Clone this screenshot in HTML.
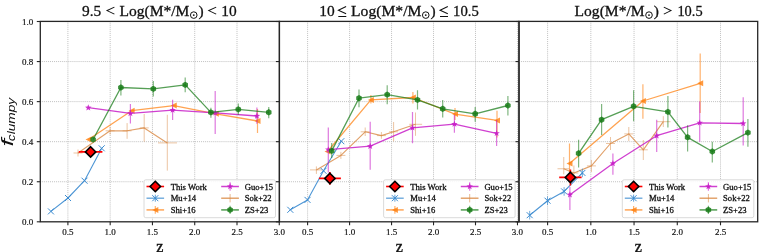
<!DOCTYPE html><html><head><meta charset="utf-8"><style>html,body{margin:0;padding:0;background:#fff;}svg{display:block;will-change:transform;}</style></head><body><svg width="759" height="252" viewBox="0 0 759 252"><rect width="759" height="252" fill="#fff"/><clipPath id="c0"><rect x="40.3" y="21.4" width="239.09999999999997" height="200.4"/></clipPath><g stroke-dasharray="0.9,1.06"><line x1="40.30" y1="181.74" x2="279.40" y2="181.74" stroke="#b4b4b4" stroke-width="0.9" stroke-opacity="1.0"/><line x1="40.30" y1="141.68" x2="279.40" y2="141.68" stroke="#b4b4b4" stroke-width="0.9" stroke-opacity="1.0"/><line x1="40.30" y1="101.62" x2="279.40" y2="101.62" stroke="#b4b4b4" stroke-width="0.9" stroke-opacity="1.0"/><line x1="40.30" y1="61.56" x2="279.40" y2="61.56" stroke="#b4b4b4" stroke-width="0.9" stroke-opacity="1.0"/><line x1="67.90" y1="21.40" x2="67.90" y2="221.80" stroke="#b4b4b4" stroke-width="0.9" stroke-opacity="1.0"/><line x1="110.18" y1="21.40" x2="110.18" y2="221.80" stroke="#b4b4b4" stroke-width="0.9" stroke-opacity="1.0"/><line x1="152.45" y1="21.40" x2="152.45" y2="221.80" stroke="#b4b4b4" stroke-width="0.9" stroke-opacity="1.0"/><line x1="194.72" y1="21.40" x2="194.72" y2="221.80" stroke="#b4b4b4" stroke-width="0.9" stroke-opacity="1.0"/><line x1="237.00" y1="21.40" x2="237.00" y2="221.80" stroke="#b4b4b4" stroke-width="0.9" stroke-opacity="1.0"/></g><g clip-path="url(#c0)"><polyline points="78.00,153.00 110.10,130.80 127.10,130.80 144.20,127.90 167.30,142.90" fill="none" stroke="#d98a45" stroke-width="1.15" stroke-opacity="0.8" stroke-linejoin="round" stroke-linecap="butt" /><line x1="78.00" y1="149.50" x2="78.00" y2="156.50" stroke="#d98a45" stroke-width="1.0" stroke-opacity="0.5"/><line x1="73.50" y1="153.00" x2="82.50" y2="153.00" stroke="#d98a45" stroke-width="1.0" stroke-opacity="0.5"/><line x1="110.10" y1="126.90" x2="110.10" y2="134.60" stroke="#d98a45" stroke-width="1.0" stroke-opacity="0.5"/><line x1="105.60" y1="130.80" x2="114.60" y2="130.80" stroke="#d98a45" stroke-width="1.0" stroke-opacity="0.5"/><line x1="127.10" y1="123.10" x2="127.10" y2="138.80" stroke="#d98a45" stroke-width="1.0" stroke-opacity="0.5"/><line x1="122.60" y1="130.80" x2="131.60" y2="130.80" stroke="#d98a45" stroke-width="1.0" stroke-opacity="0.5"/><line x1="144.20" y1="114.00" x2="144.20" y2="141.70" stroke="#d98a45" stroke-width="1.0" stroke-opacity="0.5"/><line x1="139.70" y1="127.90" x2="148.70" y2="127.90" stroke="#d98a45" stroke-width="1.0" stroke-opacity="0.5"/><line x1="167.30" y1="114.80" x2="167.30" y2="170.60" stroke="#d98a45" stroke-width="1.0" stroke-opacity="0.5"/><line x1="158.00" y1="142.90" x2="177.00" y2="142.90" stroke="#d98a45" stroke-width="1.0" stroke-opacity="0.5"/><polyline points="50.95,211.40 68.00,198.00 84.50,180.70 101.70,148.30" fill="none" stroke="#3b8bd0" stroke-width="1.1" stroke-opacity="0.9" stroke-linejoin="round" stroke-linecap="butt" /><path d="M47.95,208.40L53.95,214.40M47.95,214.40L53.95,208.40" stroke="#3b8bd0" stroke-width="1.0" fill="none"/><path d="M65.00,195.00L71.00,201.00M65.00,201.00L71.00,195.00" stroke="#3b8bd0" stroke-width="1.0" fill="none"/><path d="M81.50,177.70L87.50,183.70M81.50,183.70L87.50,177.70" stroke="#3b8bd0" stroke-width="1.0" fill="none"/><path d="M98.70,145.30L104.70,151.30M98.70,151.30L104.70,145.30" stroke="#3b8bd0" stroke-width="1.0" fill="none"/><polyline points="88.50,139.50 131.60,110.70 173.75,105.60 215.80,113.80 257.50,121.00" fill="none" stroke="#ff7f0e" stroke-width="1.3" stroke-opacity="0.72" stroke-linejoin="round" stroke-linecap="butt" /><polygon points="85.50,139.50 91.50,136.50 91.50,142.50" fill="#ff7f0e" fill-opacity="0.8"/><polygon points="128.60,110.70 134.60,107.70 134.60,113.70" fill="#ff7f0e" fill-opacity="0.8"/><polygon points="170.75,105.60 176.75,102.60 176.75,108.60" fill="#ff7f0e" fill-opacity="0.8"/><polygon points="212.80,113.80 218.80,110.80 218.80,116.80" fill="#ff7f0e" fill-opacity="0.8"/><line x1="257.50" y1="109.00" x2="257.50" y2="133.00" stroke="#ff7f0e" stroke-width="1.2" stroke-opacity="0.6"/><polygon points="254.50,121.00 260.50,118.00 260.50,124.00" fill="#ff7f0e" fill-opacity="0.8"/><polyline points="88.30,107.70 130.40,113.40 172.60,110.10 215.20,112.80 256.90,116.00" fill="none" stroke="#c81ec8" stroke-width="1.3" stroke-opacity="0.85" stroke-linejoin="round" stroke-linecap="butt" /><polygon points="88.30,104.30 89.14,106.54 91.53,106.65 89.66,108.14 90.30,110.45 88.30,109.13 86.30,110.45 86.94,108.14 85.07,106.65 87.46,106.54" fill="#c81ec8" fill-opacity="0.9"/><line x1="130.40" y1="103.90" x2="130.40" y2="123.60" stroke="#c81ec8" stroke-width="1.2" stroke-opacity="0.6"/><polygon points="130.40,110.00 131.24,112.24 133.63,112.35 131.76,113.84 132.40,116.15 130.40,114.83 128.40,116.15 129.04,113.84 127.17,112.35 129.56,112.24" fill="#c81ec8" fill-opacity="0.9"/><line x1="172.60" y1="99.70" x2="172.60" y2="119.90" stroke="#c81ec8" stroke-width="1.2" stroke-opacity="0.6"/><polygon points="172.60,106.70 173.44,108.94 175.83,109.05 173.96,110.54 174.60,112.85 172.60,111.53 170.60,112.85 171.24,110.54 169.37,109.05 171.76,108.94" fill="#c81ec8" fill-opacity="0.9"/><line x1="215.20" y1="90.90" x2="215.20" y2="134.00" stroke="#c81ec8" stroke-width="1.2" stroke-opacity="0.6"/><polygon points="215.20,109.40 216.04,111.64 218.43,111.75 216.56,113.24 217.20,115.55 215.20,114.23 213.20,115.55 213.84,113.24 211.97,111.75 214.36,111.64" fill="#c81ec8" fill-opacity="0.9"/><line x1="256.90" y1="107.40" x2="256.90" y2="123.80" stroke="#c81ec8" stroke-width="1.2" stroke-opacity="0.6"/><polygon points="256.90,112.60 257.74,114.84 260.13,114.95 258.26,116.44 258.90,118.75 256.90,117.43 254.90,118.75 255.54,116.44 253.67,114.95 256.06,114.84" fill="#c81ec8" fill-opacity="0.9"/><polyline points="93.10,139.50 120.90,87.50 153.30,88.90 185.20,84.90 210.90,112.40 238.30,109.40 268.75,112.30" fill="none" stroke="#157a15" stroke-width="1.35" stroke-opacity="0.72" stroke-linejoin="round" stroke-linecap="butt" /><polygon points="93.10,136.30 95.87,137.90 95.87,141.10 93.10,142.70 90.33,141.10 90.33,137.90" fill="#157a15" fill-opacity="0.85"/><line x1="120.90" y1="79.90" x2="120.90" y2="95.40" stroke="#157a15" stroke-width="1.2" stroke-opacity="0.55"/><polygon points="120.90,84.30 123.67,85.90 123.67,89.10 120.90,90.70 118.13,89.10 118.13,85.90" fill="#157a15" fill-opacity="0.85"/><line x1="153.30" y1="80.90" x2="153.30" y2="96.40" stroke="#157a15" stroke-width="1.2" stroke-opacity="0.55"/><polygon points="153.30,85.70 156.07,87.30 156.07,90.50 153.30,92.10 150.53,90.50 150.53,87.30" fill="#157a15" fill-opacity="0.85"/><line x1="185.20" y1="77.50" x2="185.20" y2="92.20" stroke="#157a15" stroke-width="1.2" stroke-opacity="0.55"/><polygon points="185.20,81.70 187.97,83.30 187.97,86.50 185.20,88.10 182.43,86.50 182.43,83.30" fill="#157a15" fill-opacity="0.85"/><line x1="210.90" y1="107.80" x2="210.90" y2="117.80" stroke="#157a15" stroke-width="1.2" stroke-opacity="0.55"/><polygon points="210.90,109.20 213.67,110.80 213.67,114.00 210.90,115.60 208.13,114.00 208.13,110.80" fill="#157a15" fill-opacity="0.85"/><line x1="238.30" y1="103.50" x2="238.30" y2="114.80" stroke="#157a15" stroke-width="1.2" stroke-opacity="0.55"/><polygon points="238.30,106.20 241.07,107.80 241.07,111.00 238.30,112.60 235.53,111.00 235.53,107.80" fill="#157a15" fill-opacity="0.85"/><line x1="268.75" y1="107.00" x2="268.75" y2="118.20" stroke="#157a15" stroke-width="1.2" stroke-opacity="0.55"/><polygon points="268.75,109.10 271.52,110.70 271.52,113.90 268.75,115.50 265.98,113.90 265.98,110.70" fill="#157a15" fill-opacity="0.85"/><line x1="78.80" y1="151.90" x2="102.40" y2="151.90" stroke="#ff0000" stroke-width="1.6" stroke-opacity="1.0"/><line x1="90.60" y1="147.90" x2="90.60" y2="155.90" stroke="#ff0000" stroke-width="1.6" stroke-opacity="1.0"/><polygon points="90.60,146.70 95.80,151.90 90.60,157.10 85.40,151.90" fill="#ff0000" stroke="#000" stroke-width="1.6" stroke-linejoin="miter"/></g><rect x="144.0" y="179.8" width="131.5" height="37.9" rx="1.8" fill="#fff" fill-opacity="0.85" stroke="#d6d6d6" stroke-width="0.9"/><line x1="146.50" y1="186.50" x2="164.10" y2="186.50" stroke="#ff0000" stroke-width="1.6" stroke-opacity="1.0"/><polygon points="155.30,181.30 160.50,186.50 155.30,191.70 150.10,186.50" fill="#ff0000" stroke="#000" stroke-width="1.6" stroke-linejoin="miter"/><line x1="146.50" y1="198.20" x2="164.10" y2="198.20" stroke="#3b8bd0" stroke-width="1.3" stroke-opacity="0.8"/><line x1="155.30" y1="194.70" x2="155.30" y2="201.70" stroke="#3b8bd0" stroke-width="1.0" stroke-opacity="0.8"/><path d="M152.30,195.20L158.30,201.20M152.30,201.20L158.30,195.20" stroke="#3b8bd0" stroke-width="1.0" fill="none"/><line x1="146.50" y1="209.90" x2="164.10" y2="209.90" stroke="#ff7f0e" stroke-width="1.5" stroke-opacity="0.7"/><line x1="155.30" y1="206.10" x2="155.30" y2="213.70" stroke="#ff7f0e" stroke-width="1.2" stroke-opacity="0.6"/><polygon points="152.30,209.90 158.30,206.90 158.30,212.90" fill="#ff7f0e" fill-opacity="0.8"/><line x1="221.20" y1="186.50" x2="238.90" y2="186.50" stroke="#c81ec8" stroke-width="1.5" stroke-opacity="0.85"/><line x1="230.10" y1="182.30" x2="230.10" y2="190.70" stroke="#c81ec8" stroke-width="1.2" stroke-opacity="0.6"/><polygon points="230.10,183.10 230.94,185.34 233.33,185.45 231.46,186.94 232.10,189.25 230.10,187.93 228.10,189.25 228.74,186.94 226.87,185.45 229.26,185.34" fill="#c81ec8" fill-opacity="0.9"/><line x1="221.20" y1="198.20" x2="238.90" y2="198.20" stroke="#d98a45" stroke-width="1.3" stroke-opacity="0.9"/><line x1="230.10" y1="194.00" x2="230.10" y2="202.40" stroke="#d98a45" stroke-width="1.0" stroke-opacity="0.6"/><line x1="221.20" y1="209.90" x2="238.90" y2="209.90" stroke="#157a15" stroke-width="1.6" stroke-opacity="0.7"/><line x1="230.10" y1="205.70" x2="230.10" y2="214.10" stroke="#157a15" stroke-width="1.2" stroke-opacity="0.55"/><polygon points="230.10,206.70 232.87,208.30 232.87,211.50 230.10,213.10 227.33,211.50 227.33,208.30" fill="#157a15" fill-opacity="0.85"/><text x="170.70" y="189.50" style="font-family:'Liberation Serif',serif;font-size:8.6px;fill:#111;stroke:#111;stroke-width:0.3px">This Work</text><text x="170.70" y="201.20" style="font-family:'Liberation Serif',serif;font-size:8.6px;fill:#111;stroke:#111;stroke-width:0.3px">Mu+14</text><text x="170.70" y="212.90" style="font-family:'Liberation Serif',serif;font-size:8.6px;fill:#111;stroke:#111;stroke-width:0.3px">Shi+16</text><text x="244.80" y="189.50" style="font-family:'Liberation Serif',serif;font-size:8.6px;fill:#111;stroke:#111;stroke-width:0.3px">Guo+15</text><text x="244.80" y="201.20" style="font-family:'Liberation Serif',serif;font-size:8.6px;fill:#111;stroke:#111;stroke-width:0.3px">Sok+22</text><text x="244.80" y="212.90" style="font-family:'Liberation Serif',serif;font-size:8.6px;fill:#111;stroke:#111;stroke-width:0.3px">ZS+23</text><rect x="40.3" y="21.4" width="239.09999999999997" height="200.4" fill="none" stroke="#262626" stroke-width="1.3"/><line x1="36.80" y1="221.80" x2="40.30" y2="221.80" stroke="#262626" stroke-width="1.1" stroke-opacity="1.0"/><line x1="36.80" y1="181.74" x2="40.30" y2="181.74" stroke="#262626" stroke-width="1.1" stroke-opacity="1.0"/><line x1="36.80" y1="141.68" x2="40.30" y2="141.68" stroke="#262626" stroke-width="1.1" stroke-opacity="1.0"/><line x1="36.80" y1="101.62" x2="40.30" y2="101.62" stroke="#262626" stroke-width="1.1" stroke-opacity="1.0"/><line x1="36.80" y1="61.56" x2="40.30" y2="61.56" stroke="#262626" stroke-width="1.1" stroke-opacity="1.0"/><line x1="36.80" y1="21.50" x2="40.30" y2="21.50" stroke="#262626" stroke-width="1.1" stroke-opacity="1.0"/><line x1="67.90" y1="221.80" x2="67.90" y2="225.30" stroke="#262626" stroke-width="1.1" stroke-opacity="1.0"/><line x1="110.18" y1="221.80" x2="110.18" y2="225.30" stroke="#262626" stroke-width="1.1" stroke-opacity="1.0"/><line x1="152.45" y1="221.80" x2="152.45" y2="225.30" stroke="#262626" stroke-width="1.1" stroke-opacity="1.0"/><line x1="194.72" y1="221.80" x2="194.72" y2="225.30" stroke="#262626" stroke-width="1.1" stroke-opacity="1.0"/><line x1="237.00" y1="221.80" x2="237.00" y2="225.30" stroke="#262626" stroke-width="1.1" stroke-opacity="1.0"/><line x1="279.27" y1="221.80" x2="279.27" y2="225.30" stroke="#262626" stroke-width="1.1" stroke-opacity="1.0"/><clipPath id="c1"><rect x="279.4" y="21.4" width="239.60000000000002" height="200.4"/></clipPath><g stroke-dasharray="0.9,1.06"><line x1="279.40" y1="181.74" x2="519.00" y2="181.74" stroke="#b4b4b4" stroke-width="0.9" stroke-opacity="1.0"/><line x1="279.40" y1="141.68" x2="519.00" y2="141.68" stroke="#b4b4b4" stroke-width="0.9" stroke-opacity="1.0"/><line x1="279.40" y1="101.62" x2="519.00" y2="101.62" stroke="#b4b4b4" stroke-width="0.9" stroke-opacity="1.0"/><line x1="279.40" y1="61.56" x2="519.00" y2="61.56" stroke="#b4b4b4" stroke-width="0.9" stroke-opacity="1.0"/><line x1="307.60" y1="21.40" x2="307.60" y2="221.80" stroke="#b4b4b4" stroke-width="0.9" stroke-opacity="1.0"/><line x1="349.58" y1="21.40" x2="349.58" y2="221.80" stroke="#b4b4b4" stroke-width="0.9" stroke-opacity="1.0"/><line x1="391.55" y1="21.40" x2="391.55" y2="221.80" stroke="#b4b4b4" stroke-width="0.9" stroke-opacity="1.0"/><line x1="433.53" y1="21.40" x2="433.53" y2="221.80" stroke="#b4b4b4" stroke-width="0.9" stroke-opacity="1.0"/><line x1="475.50" y1="21.40" x2="475.50" y2="221.80" stroke="#b4b4b4" stroke-width="0.9" stroke-opacity="1.0"/><line x1="517.48" y1="21.40" x2="517.48" y2="221.80" stroke="#b4b4b4" stroke-width="0.9" stroke-opacity="1.0"/></g><g clip-path="url(#c1)"><polyline points="316.40,169.90 340.90,155.40 365.20,131.80 381.40,135.60 393.60,131.80 415.50,124.30" fill="none" stroke="#d98a45" stroke-width="1.15" stroke-opacity="0.8" stroke-linejoin="round" stroke-linecap="butt" /><line x1="316.40" y1="166.40" x2="316.40" y2="173.90" stroke="#d98a45" stroke-width="1.0" stroke-opacity="0.5"/><line x1="310.00" y1="169.90" x2="322.50" y2="169.90" stroke="#d98a45" stroke-width="1.0" stroke-opacity="0.5"/><line x1="340.90" y1="151.90" x2="340.90" y2="158.90" stroke="#d98a45" stroke-width="1.0" stroke-opacity="0.5"/><line x1="336.40" y1="155.40" x2="345.40" y2="155.40" stroke="#d98a45" stroke-width="1.0" stroke-opacity="0.5"/><line x1="365.20" y1="127.50" x2="365.20" y2="136.00" stroke="#d98a45" stroke-width="1.0" stroke-opacity="0.5"/><line x1="360.70" y1="131.80" x2="369.70" y2="131.80" stroke="#d98a45" stroke-width="1.0" stroke-opacity="0.5"/><line x1="381.40" y1="132.00" x2="381.40" y2="138.80" stroke="#d98a45" stroke-width="1.0" stroke-opacity="0.5"/><line x1="376.90" y1="135.60" x2="385.90" y2="135.60" stroke="#d98a45" stroke-width="1.0" stroke-opacity="0.5"/><line x1="393.60" y1="122.00" x2="393.60" y2="141.30" stroke="#d98a45" stroke-width="1.0" stroke-opacity="0.5"/><line x1="389.10" y1="131.80" x2="398.10" y2="131.80" stroke="#d98a45" stroke-width="1.0" stroke-opacity="0.5"/><line x1="415.50" y1="112.50" x2="415.50" y2="135.80" stroke="#d98a45" stroke-width="1.0" stroke-opacity="0.5"/><line x1="409.30" y1="124.30" x2="422.10" y2="124.30" stroke="#d98a45" stroke-width="1.0" stroke-opacity="0.5"/><polyline points="290.30,209.80 307.50,199.90 323.50,170.80 341.30,141.20" fill="none" stroke="#3b8bd0" stroke-width="1.1" stroke-opacity="0.9" stroke-linejoin="round" stroke-linecap="butt" /><path d="M287.30,206.80L293.30,212.80M287.30,212.80L293.30,206.80" stroke="#3b8bd0" stroke-width="1.0" fill="none"/><path d="M304.50,196.90L310.50,202.90M304.50,202.90L310.50,196.90" stroke="#3b8bd0" stroke-width="1.0" fill="none"/><path d="M320.50,167.80L326.50,173.80M320.50,173.80L326.50,167.80" stroke="#3b8bd0" stroke-width="1.0" fill="none"/><path d="M338.30,138.20L344.30,144.20M338.30,144.20L344.30,138.20" stroke="#3b8bd0" stroke-width="1.0" fill="none"/><polyline points="327.50,151.50 370.90,99.90 412.90,97.50 455.00,114.10 497.00,120.40" fill="none" stroke="#ff7f0e" stroke-width="1.3" stroke-opacity="0.72" stroke-linejoin="round" stroke-linecap="butt" /><polygon points="324.50,151.50 330.50,148.50 330.50,154.50" fill="#ff7f0e" fill-opacity="0.8"/><line x1="370.90" y1="94.90" x2="370.90" y2="103.50" stroke="#ff7f0e" stroke-width="1.2" stroke-opacity="0.6"/><polygon points="367.90,99.90 373.90,96.90 373.90,102.90" fill="#ff7f0e" fill-opacity="0.8"/><line x1="412.90" y1="92.00" x2="412.90" y2="103.50" stroke="#ff7f0e" stroke-width="1.2" stroke-opacity="0.6"/><polygon points="409.90,97.50 415.90,94.50 415.90,100.50" fill="#ff7f0e" fill-opacity="0.8"/><line x1="455.00" y1="107.90" x2="455.00" y2="120.00" stroke="#ff7f0e" stroke-width="1.2" stroke-opacity="0.6"/><polygon points="452.00,114.10 458.00,111.10 458.00,117.10" fill="#ff7f0e" fill-opacity="0.8"/><line x1="497.00" y1="110.80" x2="497.00" y2="137.60" stroke="#ff7f0e" stroke-width="1.2" stroke-opacity="0.6"/><polygon points="494.00,120.40 500.00,117.40 500.00,123.40" fill="#ff7f0e" fill-opacity="0.8"/><polyline points="328.30,149.60 370.20,146.20 412.50,127.80 454.40,124.10 496.60,133.30" fill="none" stroke="#c81ec8" stroke-width="1.3" stroke-opacity="0.85" stroke-linejoin="round" stroke-linecap="butt" /><line x1="328.30" y1="127.60" x2="328.30" y2="172.40" stroke="#c81ec8" stroke-width="1.2" stroke-opacity="0.6"/><polygon points="328.30,146.20 329.14,148.44 331.53,148.55 329.66,150.04 330.30,152.35 328.30,151.03 326.30,152.35 326.94,150.04 325.07,148.55 327.46,148.44" fill="#c81ec8" fill-opacity="0.9"/><line x1="370.20" y1="121.70" x2="370.20" y2="169.70" stroke="#c81ec8" stroke-width="1.2" stroke-opacity="0.6"/><polygon points="370.20,142.80 371.04,145.04 373.43,145.15 371.56,146.64 372.20,148.95 370.20,147.63 368.20,148.95 368.84,146.64 366.97,145.15 369.36,145.04" fill="#c81ec8" fill-opacity="0.9"/><line x1="412.50" y1="111.90" x2="412.50" y2="143.30" stroke="#c81ec8" stroke-width="1.2" stroke-opacity="0.6"/><polygon points="412.50,124.40 413.34,126.64 415.73,126.75 413.86,128.24 414.50,130.55 412.50,129.23 410.50,130.55 411.14,128.24 409.27,126.75 411.66,126.64" fill="#c81ec8" fill-opacity="0.9"/><line x1="454.40" y1="114.80" x2="454.40" y2="132.70" stroke="#c81ec8" stroke-width="1.2" stroke-opacity="0.6"/><polygon points="454.40,120.70 455.24,122.94 457.63,123.05 455.76,124.54 456.40,126.85 454.40,125.53 452.40,126.85 453.04,124.54 451.17,123.05 453.56,122.94" fill="#c81ec8" fill-opacity="0.9"/><line x1="496.60" y1="120.00" x2="496.60" y2="146.00" stroke="#c81ec8" stroke-width="1.2" stroke-opacity="0.6"/><polygon points="496.60,129.90 497.44,132.14 499.83,132.25 497.96,133.74 498.60,136.05 496.60,134.73 494.60,136.05 495.24,133.74 493.37,132.25 495.76,132.14" fill="#c81ec8" fill-opacity="0.9"/><polyline points="331.70,150.90 359.00,98.20 387.20,94.60 417.50,99.90 442.70,108.80 475.20,113.80 507.90,105.50" fill="none" stroke="#157a15" stroke-width="1.35" stroke-opacity="0.72" stroke-linejoin="round" stroke-linecap="butt" /><line x1="331.70" y1="143.00" x2="331.70" y2="158.00" stroke="#157a15" stroke-width="1.2" stroke-opacity="0.55"/><polygon points="331.70,147.70 334.47,149.30 334.47,152.50 331.70,154.10 328.93,152.50 328.93,149.30" fill="#157a15" fill-opacity="0.85"/><line x1="359.00" y1="89.50" x2="359.00" y2="107.30" stroke="#157a15" stroke-width="1.2" stroke-opacity="0.55"/><polygon points="359.00,95.00 361.77,96.60 361.77,99.80 359.00,101.40 356.23,99.80 356.23,96.60" fill="#157a15" fill-opacity="0.85"/><line x1="387.20" y1="85.20" x2="387.20" y2="104.20" stroke="#157a15" stroke-width="1.2" stroke-opacity="0.55"/><polygon points="387.20,91.40 389.97,93.00 389.97,96.20 387.20,97.80 384.43,96.20 384.43,93.00" fill="#157a15" fill-opacity="0.85"/><line x1="417.50" y1="90.30" x2="417.50" y2="109.40" stroke="#157a15" stroke-width="1.2" stroke-opacity="0.55"/><polygon points="417.50,96.70 420.27,98.30 420.27,101.50 417.50,103.10 414.73,101.50 414.73,98.30" fill="#157a15" fill-opacity="0.85"/><line x1="442.70" y1="99.90" x2="442.70" y2="117.40" stroke="#157a15" stroke-width="1.2" stroke-opacity="0.55"/><polygon points="442.70,105.60 445.47,107.20 445.47,110.40 442.70,112.00 439.93,110.40 439.93,107.20" fill="#157a15" fill-opacity="0.85"/><line x1="475.20" y1="106.90" x2="475.20" y2="121.70" stroke="#157a15" stroke-width="1.2" stroke-opacity="0.55"/><polygon points="475.20,110.60 477.97,112.20 477.97,115.40 475.20,117.00 472.43,115.40 472.43,112.20" fill="#157a15" fill-opacity="0.85"/><line x1="507.90" y1="96.00" x2="507.90" y2="115.40" stroke="#157a15" stroke-width="1.2" stroke-opacity="0.55"/><polygon points="507.90,102.30 510.67,103.90 510.67,107.10 507.90,108.70 505.13,107.10 505.13,103.90" fill="#157a15" fill-opacity="0.85"/><line x1="318.90" y1="178.40" x2="340.90" y2="178.40" stroke="#ff0000" stroke-width="1.6" stroke-opacity="1.0"/><line x1="329.90" y1="172.00" x2="329.90" y2="184.80" stroke="#ff0000" stroke-width="1.6" stroke-opacity="1.0"/><polygon points="329.90,173.20 335.10,178.40 329.90,183.60 324.70,178.40" fill="#ff0000" stroke="#000" stroke-width="1.6" stroke-linejoin="miter"/></g><rect x="383.6" y="179.8" width="131.5" height="37.9" rx="1.8" fill="#fff" fill-opacity="0.85" stroke="#d6d6d6" stroke-width="0.9"/><line x1="386.10" y1="186.50" x2="403.70" y2="186.50" stroke="#ff0000" stroke-width="1.6" stroke-opacity="1.0"/><polygon points="394.90,181.30 400.10,186.50 394.90,191.70 389.70,186.50" fill="#ff0000" stroke="#000" stroke-width="1.6" stroke-linejoin="miter"/><line x1="386.10" y1="198.20" x2="403.70" y2="198.20" stroke="#3b8bd0" stroke-width="1.3" stroke-opacity="0.8"/><line x1="394.90" y1="194.70" x2="394.90" y2="201.70" stroke="#3b8bd0" stroke-width="1.0" stroke-opacity="0.8"/><path d="M391.90,195.20L397.90,201.20M391.90,201.20L397.90,195.20" stroke="#3b8bd0" stroke-width="1.0" fill="none"/><line x1="386.10" y1="209.90" x2="403.70" y2="209.90" stroke="#ff7f0e" stroke-width="1.5" stroke-opacity="0.7"/><line x1="394.90" y1="206.10" x2="394.90" y2="213.70" stroke="#ff7f0e" stroke-width="1.2" stroke-opacity="0.6"/><polygon points="391.90,209.90 397.90,206.90 397.90,212.90" fill="#ff7f0e" fill-opacity="0.8"/><line x1="460.80" y1="186.50" x2="478.50" y2="186.50" stroke="#c81ec8" stroke-width="1.5" stroke-opacity="0.85"/><line x1="469.70" y1="182.30" x2="469.70" y2="190.70" stroke="#c81ec8" stroke-width="1.2" stroke-opacity="0.6"/><polygon points="469.70,183.10 470.54,185.34 472.93,185.45 471.06,186.94 471.70,189.25 469.70,187.93 467.70,189.25 468.34,186.94 466.47,185.45 468.86,185.34" fill="#c81ec8" fill-opacity="0.9"/><line x1="460.80" y1="198.20" x2="478.50" y2="198.20" stroke="#d98a45" stroke-width="1.3" stroke-opacity="0.9"/><line x1="469.70" y1="194.00" x2="469.70" y2="202.40" stroke="#d98a45" stroke-width="1.0" stroke-opacity="0.6"/><line x1="460.80" y1="209.90" x2="478.50" y2="209.90" stroke="#157a15" stroke-width="1.6" stroke-opacity="0.7"/><line x1="469.70" y1="205.70" x2="469.70" y2="214.10" stroke="#157a15" stroke-width="1.2" stroke-opacity="0.55"/><polygon points="469.70,206.70 472.47,208.30 472.47,211.50 469.70,213.10 466.93,211.50 466.93,208.30" fill="#157a15" fill-opacity="0.85"/><text x="410.30" y="189.50" style="font-family:'Liberation Serif',serif;font-size:8.6px;fill:#111;stroke:#111;stroke-width:0.3px">This Work</text><text x="410.30" y="201.20" style="font-family:'Liberation Serif',serif;font-size:8.6px;fill:#111;stroke:#111;stroke-width:0.3px">Mu+14</text><text x="410.30" y="212.90" style="font-family:'Liberation Serif',serif;font-size:8.6px;fill:#111;stroke:#111;stroke-width:0.3px">Shi+16</text><text x="484.40" y="189.50" style="font-family:'Liberation Serif',serif;font-size:8.6px;fill:#111;stroke:#111;stroke-width:0.3px">Guo+15</text><text x="484.40" y="201.20" style="font-family:'Liberation Serif',serif;font-size:8.6px;fill:#111;stroke:#111;stroke-width:0.3px">Sok+22</text><text x="484.40" y="212.90" style="font-family:'Liberation Serif',serif;font-size:8.6px;fill:#111;stroke:#111;stroke-width:0.3px">ZS+23</text><rect x="279.4" y="21.4" width="239.60000000000002" height="200.4" fill="none" stroke="#262626" stroke-width="1.3"/><line x1="275.90" y1="221.80" x2="279.40" y2="221.80" stroke="#262626" stroke-width="1.1" stroke-opacity="1.0"/><line x1="275.90" y1="181.74" x2="279.40" y2="181.74" stroke="#262626" stroke-width="1.1" stroke-opacity="1.0"/><line x1="275.90" y1="141.68" x2="279.40" y2="141.68" stroke="#262626" stroke-width="1.1" stroke-opacity="1.0"/><line x1="275.90" y1="101.62" x2="279.40" y2="101.62" stroke="#262626" stroke-width="1.1" stroke-opacity="1.0"/><line x1="275.90" y1="61.56" x2="279.40" y2="61.56" stroke="#262626" stroke-width="1.1" stroke-opacity="1.0"/><line x1="275.90" y1="21.50" x2="279.40" y2="21.50" stroke="#262626" stroke-width="1.1" stroke-opacity="1.0"/><line x1="307.60" y1="221.80" x2="307.60" y2="225.30" stroke="#262626" stroke-width="1.1" stroke-opacity="1.0"/><line x1="349.58" y1="221.80" x2="349.58" y2="225.30" stroke="#262626" stroke-width="1.1" stroke-opacity="1.0"/><line x1="391.55" y1="221.80" x2="391.55" y2="225.30" stroke="#262626" stroke-width="1.1" stroke-opacity="1.0"/><line x1="433.53" y1="221.80" x2="433.53" y2="225.30" stroke="#262626" stroke-width="1.1" stroke-opacity="1.0"/><line x1="475.50" y1="221.80" x2="475.50" y2="225.30" stroke="#262626" stroke-width="1.1" stroke-opacity="1.0"/><line x1="517.48" y1="221.80" x2="517.48" y2="225.30" stroke="#262626" stroke-width="1.1" stroke-opacity="1.0"/><clipPath id="c2"><rect x="519.0" y="21.4" width="238.70000000000005" height="200.4"/></clipPath><g stroke-dasharray="0.9,1.06"><line x1="519.00" y1="181.74" x2="757.70" y2="181.74" stroke="#b4b4b4" stroke-width="0.9" stroke-opacity="1.0"/><line x1="519.00" y1="141.68" x2="757.70" y2="141.68" stroke="#b4b4b4" stroke-width="0.9" stroke-opacity="1.0"/><line x1="519.00" y1="101.62" x2="757.70" y2="101.62" stroke="#b4b4b4" stroke-width="0.9" stroke-opacity="1.0"/><line x1="519.00" y1="61.56" x2="757.70" y2="61.56" stroke="#b4b4b4" stroke-width="0.9" stroke-opacity="1.0"/><line x1="547.60" y1="21.40" x2="547.60" y2="221.80" stroke="#b4b4b4" stroke-width="0.9" stroke-opacity="1.0"/><line x1="590.83" y1="21.40" x2="590.83" y2="221.80" stroke="#b4b4b4" stroke-width="0.9" stroke-opacity="1.0"/><line x1="634.05" y1="21.40" x2="634.05" y2="221.80" stroke="#b4b4b4" stroke-width="0.9" stroke-opacity="1.0"/><line x1="677.28" y1="21.40" x2="677.28" y2="221.80" stroke="#b4b4b4" stroke-width="0.9" stroke-opacity="1.0"/><line x1="720.50" y1="21.40" x2="720.50" y2="221.80" stroke="#b4b4b4" stroke-width="0.9" stroke-opacity="1.0"/></g><g clip-path="url(#c2)"><polyline points="563.75,168.75 573.90,173.00 591.40,165.90 610.50,143.50 628.80,133.90 643.30,149.80 663.30,121.70" fill="none" stroke="#d98a45" stroke-width="1.15" stroke-opacity="0.8" stroke-linejoin="round" stroke-linecap="butt" /><line x1="563.75" y1="157.00" x2="563.75" y2="174.30" stroke="#d98a45" stroke-width="1.0" stroke-opacity="0.5"/><line x1="557.50" y1="168.75" x2="569.30" y2="168.75" stroke="#d98a45" stroke-width="1.0" stroke-opacity="0.5"/><line x1="573.90" y1="165.50" x2="573.90" y2="180.00" stroke="#d98a45" stroke-width="1.0" stroke-opacity="0.5"/><line x1="569.40" y1="173.00" x2="578.40" y2="173.00" stroke="#d98a45" stroke-width="1.0" stroke-opacity="0.5"/><line x1="591.40" y1="160.00" x2="591.40" y2="172.00" stroke="#d98a45" stroke-width="1.0" stroke-opacity="0.5"/><line x1="586.90" y1="165.90" x2="595.90" y2="165.90" stroke="#d98a45" stroke-width="1.0" stroke-opacity="0.5"/><line x1="610.50" y1="137.00" x2="610.50" y2="150.00" stroke="#d98a45" stroke-width="1.0" stroke-opacity="0.5"/><line x1="606.00" y1="143.50" x2="615.00" y2="143.50" stroke="#d98a45" stroke-width="1.0" stroke-opacity="0.5"/><line x1="628.80" y1="127.00" x2="628.80" y2="141.00" stroke="#d98a45" stroke-width="1.0" stroke-opacity="0.5"/><line x1="624.30" y1="133.90" x2="633.30" y2="133.90" stroke="#d98a45" stroke-width="1.0" stroke-opacity="0.5"/><line x1="643.30" y1="140.00" x2="643.30" y2="160.00" stroke="#d98a45" stroke-width="1.0" stroke-opacity="0.5"/><line x1="638.80" y1="149.80" x2="647.80" y2="149.80" stroke="#d98a45" stroke-width="1.0" stroke-opacity="0.5"/><line x1="663.30" y1="116.20" x2="663.30" y2="127.00" stroke="#d98a45" stroke-width="1.0" stroke-opacity="0.5"/><line x1="656.70" y1="121.70" x2="670.50" y2="121.70" stroke="#d98a45" stroke-width="1.0" stroke-opacity="0.5"/><polyline points="529.70,215.20 547.50,200.70 564.10,191.40 582.40,172.90" fill="none" stroke="#3b8bd0" stroke-width="1.1" stroke-opacity="0.9" stroke-linejoin="round" stroke-linecap="butt" /><path d="M526.70,212.20L532.70,218.20M526.70,218.20L532.70,212.20" stroke="#3b8bd0" stroke-width="1.0" fill="none"/><line x1="529.70" y1="210.90" x2="529.70" y2="219.50" stroke="#3b8bd0" stroke-width="0.9" stroke-opacity="0.8"/><path d="M544.50,197.70L550.50,203.70M544.50,203.70L550.50,197.70" stroke="#3b8bd0" stroke-width="1.0" fill="none"/><line x1="547.50" y1="196.40" x2="547.50" y2="205.00" stroke="#3b8bd0" stroke-width="0.9" stroke-opacity="0.8"/><path d="M561.10,188.40L567.10,194.40M561.10,194.40L567.10,188.40" stroke="#3b8bd0" stroke-width="1.0" fill="none"/><line x1="564.10" y1="187.10" x2="564.10" y2="195.70" stroke="#3b8bd0" stroke-width="0.9" stroke-opacity="0.8"/><path d="M579.40,169.90L585.40,175.90M579.40,175.90L585.40,169.90" stroke="#3b8bd0" stroke-width="1.0" fill="none"/><line x1="582.40" y1="168.60" x2="582.40" y2="177.20" stroke="#3b8bd0" stroke-width="0.9" stroke-opacity="0.8"/><polyline points="569.50,163.60 642.90,101.00 700.20,83.30" fill="none" stroke="#ff7f0e" stroke-width="1.3" stroke-opacity="0.72" stroke-linejoin="round" stroke-linecap="butt" /><line x1="569.50" y1="143.40" x2="569.50" y2="172.00" stroke="#ff7f0e" stroke-width="1.2" stroke-opacity="0.6"/><polygon points="566.50,163.60 572.50,160.60 572.50,166.60" fill="#ff7f0e" fill-opacity="0.8"/><line x1="642.90" y1="84.30" x2="642.90" y2="118.80" stroke="#ff7f0e" stroke-width="1.2" stroke-opacity="0.6"/><polygon points="639.90,101.00 645.90,98.00 645.90,104.00" fill="#ff7f0e" fill-opacity="0.8"/><line x1="700.20" y1="53.60" x2="700.20" y2="113.00" stroke="#ff7f0e" stroke-width="1.2" stroke-opacity="0.6"/><polygon points="697.20,83.30 703.20,80.30 703.20,86.30" fill="#ff7f0e" fill-opacity="0.8"/><polyline points="569.90,194.70 612.90,163.50 656.70,135.70 699.70,122.80 743.20,123.50" fill="none" stroke="#c81ec8" stroke-width="1.3" stroke-opacity="0.85" stroke-linejoin="round" stroke-linecap="butt" /><line x1="569.90" y1="186.80" x2="569.90" y2="210.00" stroke="#c81ec8" stroke-width="1.2" stroke-opacity="0.6"/><polygon points="569.90,191.30 570.74,193.54 573.13,193.65 571.26,195.14 571.90,197.45 569.90,196.13 567.90,197.45 568.54,195.14 566.67,193.65 569.06,193.54" fill="#c81ec8" fill-opacity="0.9"/><line x1="612.90" y1="153.40" x2="612.90" y2="174.80" stroke="#c81ec8" stroke-width="1.2" stroke-opacity="0.6"/><polygon points="612.90,160.10 613.74,162.34 616.13,162.45 614.26,163.94 614.90,166.25 612.90,164.93 610.90,166.25 611.54,163.94 609.67,162.45 612.06,162.34" fill="#c81ec8" fill-opacity="0.9"/><line x1="656.70" y1="119.80" x2="656.70" y2="152.00" stroke="#c81ec8" stroke-width="1.2" stroke-opacity="0.6"/><polygon points="656.70,132.30 657.54,134.54 659.93,134.65 658.06,136.14 658.70,138.45 656.70,137.13 654.70,138.45 655.34,136.14 653.47,134.65 655.86,134.54" fill="#c81ec8" fill-opacity="0.9"/><line x1="699.70" y1="101.40" x2="699.70" y2="141.70" stroke="#c81ec8" stroke-width="1.2" stroke-opacity="0.6"/><polygon points="699.70,119.40 700.54,121.64 702.93,121.75 701.06,123.24 701.70,125.55 699.70,124.23 697.70,125.55 698.34,123.24 696.47,121.75 698.86,121.64" fill="#c81ec8" fill-opacity="0.9"/><line x1="743.20" y1="97.20" x2="743.20" y2="145.50" stroke="#c81ec8" stroke-width="1.2" stroke-opacity="0.6"/><polygon points="743.20,120.10 744.04,122.34 746.43,122.45 744.56,123.94 745.20,126.25 743.20,124.93 741.20,126.25 741.84,123.94 739.97,122.45 742.36,122.34" fill="#c81ec8" fill-opacity="0.9"/><polyline points="578.60,153.30 601.60,119.70 633.60,106.30 667.90,111.90 687.60,137.30 712.30,151.50 747.90,132.60" fill="none" stroke="#157a15" stroke-width="1.35" stroke-opacity="0.72" stroke-linejoin="round" stroke-linecap="butt" /><line x1="578.60" y1="139.80" x2="578.60" y2="167.50" stroke="#157a15" stroke-width="1.2" stroke-opacity="0.55"/><polygon points="578.60,150.10 581.37,151.70 581.37,154.90 578.60,156.50 575.83,154.90 575.83,151.70" fill="#157a15" fill-opacity="0.85"/><line x1="601.60" y1="104.00" x2="601.60" y2="135.00" stroke="#157a15" stroke-width="1.2" stroke-opacity="0.55"/><polygon points="601.60,116.50 604.37,118.10 604.37,121.30 601.60,122.90 598.83,121.30 598.83,118.10" fill="#157a15" fill-opacity="0.85"/><line x1="633.60" y1="90.20" x2="633.60" y2="121.20" stroke="#157a15" stroke-width="1.2" stroke-opacity="0.55"/><polygon points="633.60,103.10 636.37,104.70 636.37,107.90 633.60,109.50 630.83,107.90 630.83,104.70" fill="#157a15" fill-opacity="0.85"/><line x1="667.90" y1="96.00" x2="667.90" y2="127.60" stroke="#157a15" stroke-width="1.2" stroke-opacity="0.55"/><polygon points="667.90,108.70 670.67,110.30 670.67,113.50 667.90,115.10 665.13,113.50 665.13,110.30" fill="#157a15" fill-opacity="0.85"/><line x1="687.60" y1="125.30" x2="687.60" y2="151.50" stroke="#157a15" stroke-width="1.2" stroke-opacity="0.55"/><polygon points="687.60,134.10 690.37,135.70 690.37,138.90 687.60,140.50 684.83,138.90 684.83,135.70" fill="#157a15" fill-opacity="0.85"/><line x1="712.30" y1="141.70" x2="712.30" y2="162.40" stroke="#157a15" stroke-width="1.2" stroke-opacity="0.55"/><polygon points="712.30,148.30 715.07,149.90 715.07,153.10 712.30,154.70 709.53,153.10 709.53,149.90" fill="#157a15" fill-opacity="0.85"/><line x1="747.90" y1="118.90" x2="747.90" y2="146.70" stroke="#157a15" stroke-width="1.2" stroke-opacity="0.55"/><polygon points="747.90,129.40 750.67,131.00 750.67,134.20 747.90,135.80 745.13,134.20 745.13,131.00" fill="#157a15" fill-opacity="0.85"/><line x1="559.20" y1="177.40" x2="581.60" y2="177.40" stroke="#ff0000" stroke-width="1.6" stroke-opacity="1.0"/><line x1="570.40" y1="169.40" x2="570.40" y2="185.40" stroke="#ff0000" stroke-width="1.6" stroke-opacity="1.0"/><polygon points="570.40,172.20 575.60,177.40 570.40,182.60 565.20,177.40" fill="#ff0000" stroke="#000" stroke-width="1.6" stroke-linejoin="miter"/></g><rect x="622.3" y="179.8" width="131.5" height="37.9" rx="1.8" fill="#fff" fill-opacity="0.85" stroke="#d6d6d6" stroke-width="0.9"/><line x1="624.80" y1="186.50" x2="642.40" y2="186.50" stroke="#ff0000" stroke-width="1.6" stroke-opacity="1.0"/><polygon points="633.60,181.30 638.80,186.50 633.60,191.70 628.40,186.50" fill="#ff0000" stroke="#000" stroke-width="1.6" stroke-linejoin="miter"/><line x1="624.80" y1="198.20" x2="642.40" y2="198.20" stroke="#3b8bd0" stroke-width="1.3" stroke-opacity="0.8"/><line x1="633.60" y1="194.70" x2="633.60" y2="201.70" stroke="#3b8bd0" stroke-width="1.0" stroke-opacity="0.8"/><path d="M630.60,195.20L636.60,201.20M630.60,201.20L636.60,195.20" stroke="#3b8bd0" stroke-width="1.0" fill="none"/><line x1="624.80" y1="209.90" x2="642.40" y2="209.90" stroke="#ff7f0e" stroke-width="1.5" stroke-opacity="0.7"/><line x1="633.60" y1="206.10" x2="633.60" y2="213.70" stroke="#ff7f0e" stroke-width="1.2" stroke-opacity="0.6"/><polygon points="630.60,209.90 636.60,206.90 636.60,212.90" fill="#ff7f0e" fill-opacity="0.8"/><line x1="699.50" y1="186.50" x2="717.20" y2="186.50" stroke="#c81ec8" stroke-width="1.5" stroke-opacity="0.85"/><line x1="708.40" y1="182.30" x2="708.40" y2="190.70" stroke="#c81ec8" stroke-width="1.2" stroke-opacity="0.6"/><polygon points="708.40,183.10 709.24,185.34 711.63,185.45 709.76,186.94 710.40,189.25 708.40,187.93 706.40,189.25 707.04,186.94 705.17,185.45 707.56,185.34" fill="#c81ec8" fill-opacity="0.9"/><line x1="699.50" y1="198.20" x2="717.20" y2="198.20" stroke="#d98a45" stroke-width="1.3" stroke-opacity="0.9"/><line x1="708.40" y1="194.00" x2="708.40" y2="202.40" stroke="#d98a45" stroke-width="1.0" stroke-opacity="0.6"/><line x1="699.50" y1="209.90" x2="717.20" y2="209.90" stroke="#157a15" stroke-width="1.6" stroke-opacity="0.7"/><line x1="708.40" y1="205.70" x2="708.40" y2="214.10" stroke="#157a15" stroke-width="1.2" stroke-opacity="0.55"/><polygon points="708.40,206.70 711.17,208.30 711.17,211.50 708.40,213.10 705.63,211.50 705.63,208.30" fill="#157a15" fill-opacity="0.85"/><text x="649.00" y="189.50" style="font-family:'Liberation Serif',serif;font-size:8.6px;fill:#111;stroke:#111;stroke-width:0.3px">This Work</text><text x="649.00" y="201.20" style="font-family:'Liberation Serif',serif;font-size:8.6px;fill:#111;stroke:#111;stroke-width:0.3px">Mu+14</text><text x="649.00" y="212.90" style="font-family:'Liberation Serif',serif;font-size:8.6px;fill:#111;stroke:#111;stroke-width:0.3px">Shi+16</text><text x="723.10" y="189.50" style="font-family:'Liberation Serif',serif;font-size:8.6px;fill:#111;stroke:#111;stroke-width:0.3px">Guo+15</text><text x="723.10" y="201.20" style="font-family:'Liberation Serif',serif;font-size:8.6px;fill:#111;stroke:#111;stroke-width:0.3px">Sok+22</text><text x="723.10" y="212.90" style="font-family:'Liberation Serif',serif;font-size:8.6px;fill:#111;stroke:#111;stroke-width:0.3px">ZS+23</text><rect x="519.0" y="21.4" width="238.70000000000005" height="200.4" fill="none" stroke="#262626" stroke-width="1.3"/><line x1="515.50" y1="221.80" x2="519.00" y2="221.80" stroke="#262626" stroke-width="1.1" stroke-opacity="1.0"/><line x1="515.50" y1="181.74" x2="519.00" y2="181.74" stroke="#262626" stroke-width="1.1" stroke-opacity="1.0"/><line x1="515.50" y1="141.68" x2="519.00" y2="141.68" stroke="#262626" stroke-width="1.1" stroke-opacity="1.0"/><line x1="515.50" y1="101.62" x2="519.00" y2="101.62" stroke="#262626" stroke-width="1.1" stroke-opacity="1.0"/><line x1="515.50" y1="61.56" x2="519.00" y2="61.56" stroke="#262626" stroke-width="1.1" stroke-opacity="1.0"/><line x1="515.50" y1="21.50" x2="519.00" y2="21.50" stroke="#262626" stroke-width="1.1" stroke-opacity="1.0"/><line x1="547.60" y1="221.80" x2="547.60" y2="225.30" stroke="#262626" stroke-width="1.1" stroke-opacity="1.0"/><line x1="590.83" y1="221.80" x2="590.83" y2="225.30" stroke="#262626" stroke-width="1.1" stroke-opacity="1.0"/><line x1="634.05" y1="221.80" x2="634.05" y2="225.30" stroke="#262626" stroke-width="1.1" stroke-opacity="1.0"/><line x1="677.28" y1="221.80" x2="677.28" y2="225.30" stroke="#262626" stroke-width="1.1" stroke-opacity="1.0"/><line x1="720.50" y1="221.80" x2="720.50" y2="225.30" stroke="#262626" stroke-width="1.1" stroke-opacity="1.0"/><text x="33.3" y="224.90" text-anchor="end" style="font-family:'Liberation Serif',serif;font-size:9px;fill:#111;stroke:#111;stroke-width:0.18px">0.0</text><text x="33.3" y="184.84" text-anchor="end" style="font-family:'Liberation Serif',serif;font-size:9px;fill:#111;stroke:#111;stroke-width:0.18px">0.2</text><text x="33.3" y="144.78" text-anchor="end" style="font-family:'Liberation Serif',serif;font-size:9px;fill:#111;stroke:#111;stroke-width:0.18px">0.4</text><text x="33.3" y="104.72" text-anchor="end" style="font-family:'Liberation Serif',serif;font-size:9px;fill:#111;stroke:#111;stroke-width:0.18px">0.6</text><text x="33.3" y="64.66" text-anchor="end" style="font-family:'Liberation Serif',serif;font-size:9px;fill:#111;stroke:#111;stroke-width:0.18px">0.8</text><text x="33.3" y="24.60" text-anchor="end" style="font-family:'Liberation Serif',serif;font-size:9px;fill:#111;stroke:#111;stroke-width:0.18px">1.0</text><text x="67.90" y="234.6" text-anchor="middle" style="font-family:'Liberation Serif',serif;font-size:9px;fill:#111;stroke:#111;stroke-width:0.18px">0.5</text><text x="110.18" y="234.6" text-anchor="middle" style="font-family:'Liberation Serif',serif;font-size:9px;fill:#111;stroke:#111;stroke-width:0.18px">1.0</text><text x="152.45" y="234.6" text-anchor="middle" style="font-family:'Liberation Serif',serif;font-size:9px;fill:#111;stroke:#111;stroke-width:0.18px">1.5</text><text x="194.72" y="234.6" text-anchor="middle" style="font-family:'Liberation Serif',serif;font-size:9px;fill:#111;stroke:#111;stroke-width:0.18px">2.0</text><text x="237.00" y="234.6" text-anchor="middle" style="font-family:'Liberation Serif',serif;font-size:9px;fill:#111;stroke:#111;stroke-width:0.18px">2.5</text><text x="279.27" y="234.6" text-anchor="middle" style="font-family:'Liberation Serif',serif;font-size:9px;fill:#111;stroke:#111;stroke-width:0.18px">3.0</text><text x="159.85" y="251.5" text-anchor="middle" style="font-family:'Liberation Serif',serif;font-size:16px;fill:#111;stroke:#111;stroke-width:0.4px">z</text><text x="307.60" y="234.6" text-anchor="middle" style="font-family:'Liberation Serif',serif;font-size:9px;fill:#111;stroke:#111;stroke-width:0.18px">0.5</text><text x="349.58" y="234.6" text-anchor="middle" style="font-family:'Liberation Serif',serif;font-size:9px;fill:#111;stroke:#111;stroke-width:0.18px">1.0</text><text x="391.55" y="234.6" text-anchor="middle" style="font-family:'Liberation Serif',serif;font-size:9px;fill:#111;stroke:#111;stroke-width:0.18px">1.5</text><text x="433.53" y="234.6" text-anchor="middle" style="font-family:'Liberation Serif',serif;font-size:9px;fill:#111;stroke:#111;stroke-width:0.18px">2.0</text><text x="475.50" y="234.6" text-anchor="middle" style="font-family:'Liberation Serif',serif;font-size:9px;fill:#111;stroke:#111;stroke-width:0.18px">2.5</text><text x="517.48" y="234.6" text-anchor="middle" style="font-family:'Liberation Serif',serif;font-size:9px;fill:#111;stroke:#111;stroke-width:0.18px">3.0</text><text x="399.20" y="251.5" text-anchor="middle" style="font-family:'Liberation Serif',serif;font-size:16px;fill:#111;stroke:#111;stroke-width:0.4px">z</text><text x="547.60" y="234.6" text-anchor="middle" style="font-family:'Liberation Serif',serif;font-size:9px;fill:#111;stroke:#111;stroke-width:0.18px">0.5</text><text x="590.83" y="234.6" text-anchor="middle" style="font-family:'Liberation Serif',serif;font-size:9px;fill:#111;stroke:#111;stroke-width:0.18px">1.0</text><text x="634.05" y="234.6" text-anchor="middle" style="font-family:'Liberation Serif',serif;font-size:9px;fill:#111;stroke:#111;stroke-width:0.18px">1.5</text><text x="677.28" y="234.6" text-anchor="middle" style="font-family:'Liberation Serif',serif;font-size:9px;fill:#111;stroke:#111;stroke-width:0.18px">2.0</text><text x="720.50" y="234.6" text-anchor="middle" style="font-family:'Liberation Serif',serif;font-size:9px;fill:#111;stroke:#111;stroke-width:0.18px">2.5</text><text x="638.35" y="251.5" text-anchor="middle" style="font-family:'Liberation Serif',serif;font-size:16px;fill:#111;stroke:#111;stroke-width:0.4px">z</text><text x="91.70" y="15.7" text-anchor="middle" style="font-family:'Liberation Serif',serif;font-size:15.4px;fill:#111;stroke:#111;stroke-width:0.3px">9.5</text><path d="M114.40,7.1 L107.10,10.6 L114.40,14.1" fill="none" stroke="#111" stroke-width="1.05"/><text x="154.45" y="15.7" text-anchor="middle" textLength="69.9" lengthAdjust="spacingAndGlyphs" style="font-family:'Liberation Serif',serif;font-size:15.4px;fill:#111;stroke:#111;stroke-width:0.3px">Log(M*/M</text><circle cx="193.75" cy="15.1" r="3.3" fill="none" stroke="#111" stroke-width="1.0"/><circle cx="193.75" cy="15.1" r="0.95" fill="#111"/><text x="201.00" y="15.7" text-anchor="middle" style="font-family:'Liberation Serif',serif;font-size:15.4px;fill:#111;stroke:#111;stroke-width:0.3px">)</text><path d="M216.20,7.1 L208.80,10.6 L216.20,14.1" fill="none" stroke="#111" stroke-width="1.05"/><text x="228.90" y="15.7" text-anchor="middle" style="font-family:'Liberation Serif',serif;font-size:15.4px;fill:#111;stroke:#111;stroke-width:0.3px">10</text><text x="326.90" y="15.7" text-anchor="middle" style="font-family:'Liberation Serif',serif;font-size:15.4px;fill:#111;stroke:#111;stroke-width:0.3px">10</text><path d="M346.10,6.6 L338.40,10.2 L346.10,13.8" fill="none" stroke="#111" stroke-width="1.05"/><path d="M338.30,16.5 L346.30,16.5" fill="none" stroke="#111" stroke-width="1.05"/><text x="386.20" y="15.7" text-anchor="middle" textLength="70.4" lengthAdjust="spacingAndGlyphs" style="font-family:'Liberation Serif',serif;font-size:15.4px;fill:#111;stroke:#111;stroke-width:0.3px">Log(M*/M</text><circle cx="425.75" cy="15.1" r="3.3" fill="none" stroke="#111" stroke-width="1.0"/><circle cx="425.75" cy="15.1" r="0.95" fill="#111"/><text x="433.00" y="15.7" text-anchor="middle" style="font-family:'Liberation Serif',serif;font-size:15.4px;fill:#111;stroke:#111;stroke-width:0.3px">)</text><path d="M447.80,6.6 L440.10,10.2 L447.80,13.8" fill="none" stroke="#111" stroke-width="1.05"/><path d="M440.00,16.5 L448.00,16.5" fill="none" stroke="#111" stroke-width="1.05"/><text x="465.95" y="15.7" text-anchor="middle" textLength="25.7" lengthAdjust="spacingAndGlyphs" style="font-family:'Liberation Serif',serif;font-size:15.4px;fill:#111;stroke:#111;stroke-width:0.3px">10.5</text><text x="609.60" y="15.7" text-anchor="middle" textLength="70.0" lengthAdjust="spacingAndGlyphs" style="font-family:'Liberation Serif',serif;font-size:15.4px;fill:#111;stroke:#111;stroke-width:0.3px">Log(M*/M</text><circle cx="649.00" cy="15.1" r="3.3" fill="none" stroke="#111" stroke-width="1.0"/><circle cx="649.00" cy="15.1" r="0.95" fill="#111"/><text x="656.35" y="15.7" text-anchor="middle" style="font-family:'Liberation Serif',serif;font-size:15.4px;fill:#111;stroke:#111;stroke-width:0.3px">)</text><path d="M663.80,7.1 L670.90,10.6 L663.80,14.1" fill="none" stroke="#111" stroke-width="1.05"/><text x="690.00" y="15.7" text-anchor="middle" textLength="25.2" lengthAdjust="spacingAndGlyphs" style="font-family:'Liberation Serif',serif;font-size:15.4px;fill:#111;stroke:#111;stroke-width:0.3px">10.5</text><g transform="rotate(-90)"><text x="-146.6" y="12.7" textLength="7.6" lengthAdjust="spacingAndGlyphs" style="font-family:'Liberation Sans',sans-serif;font-style:italic;fill:#111;font-size:16px">f</text><text x="-141.2" y="15.1" textLength="43.4" lengthAdjust="spacingAndGlyphs" style="font-family:'Liberation Sans',sans-serif;font-style:italic;fill:#111;font-size:11.8px">clumpy</text></g></svg></body></html>
